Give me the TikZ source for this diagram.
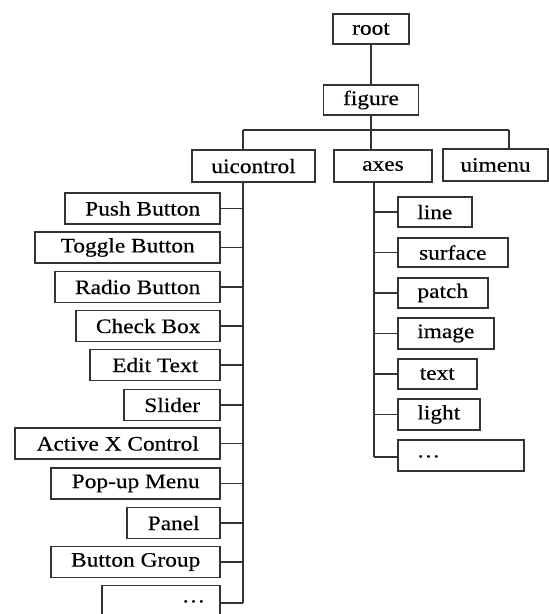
\documentclass[tikz,border=0pt]{standalone}
\usepackage{fontspec}
\setmainfont[FakeStretch=1.14,FakeBold=0.4]{Liberation Serif}
\begin{document}
\begin{tikzpicture}[x=1pt,y=-1pt,
  line width=1.6pt,
  every node/.style={font=\fontsize{20.5}{24}\selectfont, text=black},
  bx/.style={draw=black!80, inner sep=0pt, minimum height=31},
  wire/.style={draw=black!80, line width=1.6pt}]
\useasboundingbox (0,0) rectangle (549,614);
\clip (0,0) rectangle (549,614);

% top levels
\node[bx, minimum width=76, minimum height=30] (root) at (371,29) {root};
\node[bx, minimum width=95, minimum height=30] (figure) at (371,100) {f{}igure};
\node[bx, minimum width=123, minimum height=32] (uicontrol) at (253.5,166) {uicontrol};
\node[bx, minimum width=98, minimum height=32] (axes) at (383,166) {axes};
\node[bx, minimum width=105, minimum height=32] (uimenu) at (495.5,165) {uimenu};

\coordinate (bus) at (0,130);
\coordinate (uiX) at (243,0);
\coordinate (axX) at (374,0);
\coordinate (mnX) at (509,0);

% uicontrol children (right edges aligned at x = 221)
\node[bx, minimum width=155, anchor=east] (push)   at (221,208.5) {Push Button};
\node[bx, minimum width=185, anchor=east] (toggle) at (221,247.5) {Toggle Button};
\node[bx, minimum width=165, anchor=east] (radio)  at (221,287)   {Radio Button};
\node[bx, minimum width=144, anchor=east] (check)  at (221,326)   {Check Box};
\node[bx, minimum width=130, anchor=east] (edit)   at (221,365)   {Edit Text};
\node[bx, minimum width=96,  anchor=east] (slider) at (221,405)   {Slider};
\node[bx, minimum width=205, anchor=east] (activex) at (221,443.5) {Active X Control};
\node[bx, minimum width=169, anchor=east] (popup)  at (221,483.5) {Pop-up Menu};
\node[bx, minimum width=93,  anchor=east] (panel)  at (221,523)   {Panel};
\node[bx, minimum width=169, anchor=east] (bgroup) at (221,562)   {Button Group};
\node[bx, minimum width=118, anchor=east, text width=104, align=right] (moreL) at (221,601) {\raisebox{-3pt}{\dots}\hspace*{8pt}};

% axes children (left edges aligned at x = 397)
\node[bx, minimum width=74,  minimum height=30, anchor=west] (line)    at (397,212)   {line};
\node[bx, minimum width=110, minimum height=29, anchor=west] (surface) at (397,252.5) {surface};
\node[bx, minimum width=90,  minimum height=30, anchor=west] (patch)   at (397,293)   {patch};
\node[bx, minimum width=96,  anchor=west] (image)   at (397,333.5) {image};
\node[bx, minimum width=79,  minimum height=30, anchor=west] (text)    at (397,374)   {text};
\node[bx, minimum width=82,  anchor=west] (light)   at (397,414.5) {light};
\node[bx, minimum width=126, anchor=west, text width=110, align=left] (moreR) at (397,455.5) {\hspace*{11pt}\raisebox{-4pt}{\dots}};

% connectors
\draw[wire] (root.south) -- (figure.north);
\draw[wire] (figure.south) -- (figure.south |- bus);
\draw[wire] (bus -| uiX) -- (bus -| mnX);
\draw[wire] (bus -| uiX) -- (uicontrol.north -| uiX);
\draw[wire] (bus -| figure.south) -- (axes.north -| figure.south);
\draw[wire] (bus -| mnX) -- (uimenu.north -| mnX);

\draw[wire] (uicontrol.south -| uiX) -- (uiX |- 0,603);
\foreach \n in {push,toggle,radio,check,edit,slider,activex,popup,panel,bgroup}
  \draw[wire] (\n.east) -- (\n.east -| uiX);
\draw[wire] (moreL.east |- 0,603) -- (uiX |- 0,603);

\draw[wire] (axes.south -| axX) -- (axX |- 0,457);
\foreach \n in {line,surface,patch,image,text,light}
  \draw[wire] (\n.west) -- (\n.west -| axX);
\draw[wire] (moreR.west |- 0,457) -- (axX |- 0,457);
\end{tikzpicture}
\end{document}
